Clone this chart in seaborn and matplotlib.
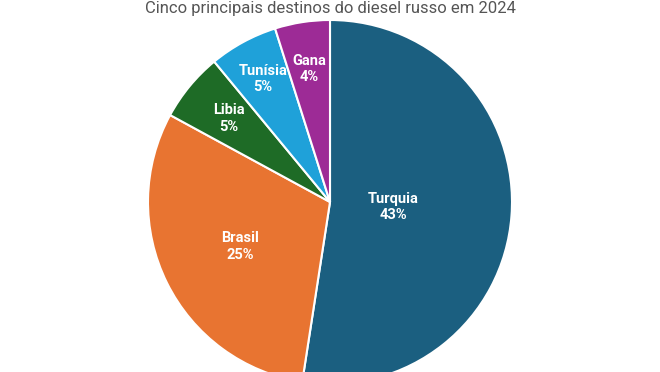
import numpy as np
import matplotlib
matplotlib.use("Agg")
import matplotlib.pyplot as plt
import seaborn as sns

# data
destinos = ["Turquia", "Brasil", "Libia", "Tunísia", "Gana"]
percentuais = [43, 25, 5, 5, 4]
cores = ["#1b5f80", "#e87431", "#1e6b26", "#1fa1d9", "#9d2b96"]
# radial position of each label (fraction of radius)
dist_rotulo = [0.35, 0.55, 0.72, 0.77, 0.74]
titulo = "Cinco principais destinos do diesel russo em 2024"

sns.set_theme(style="white")
plt.rcParams["font.family"] = ["Roboto", "DejaVu Sans"]

fig = plt.figure(figsize=(6.6, 3.72), dpi=100)
ax = fig.add_axes([0, 0, 1, 1])

wedges, _ = ax.pie(
    percentuais,
    colors=cores,
    startangle=90,
    counterclock=False,
    radius=1.0,
    wedgeprops=dict(edgecolor="white", linewidth=1.5),
)

for w, nome, pct, r in zip(wedges, destinos, percentuais, dist_rotulo):
    ang = np.deg2rad((w.theta1 + w.theta2) / 2)
    ax.text(r * np.cos(ang), r * np.sin(ang), f"{nome}\n{pct}%",
            ha="center", va="center", color="white", fontsize=10.5,
            fontweight="bold", linespacing=1.25)

# pie is 182 px in radius, centre at (330, 202) px from top-left
esc = 182.0
ax.set_xlim(-330 / esc, 330 / esc)
ax.set_ylim(-170 / esc, 202 / esc)
ax.set_aspect("auto")
ax.axis("off")

fig.text(0.5, 0.998, titulo, ha="center", va="top", fontsize=12,
         color="#555555")

fig.savefig("out.png", dpi=100)
